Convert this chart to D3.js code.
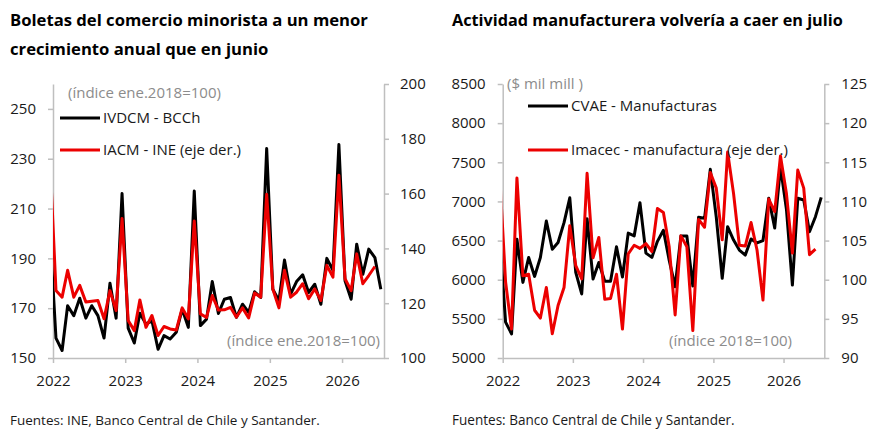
<!DOCTYPE html>
<html><head><meta charset="utf-8">
<script src="https://cdn.jsdelivr.net/npm/d3@7"></script>
<style>
body{margin:0;background:#fff;}
svg{display:block;font-family:"Open Sans",sans-serif;}
</style></head><body>
<svg id="c" width="882" height="439"></svg>
<script>
// ---- DATA ----
const months = ["2021-12",
 "2022-01","2022-02","2022-03","2022-04","2022-05","2022-06","2022-07","2022-08","2022-09","2022-10","2022-11","2022-12",
 "2023-01","2023-02","2023-03","2023-04","2023-05","2023-06","2023-07","2023-08","2023-09","2023-10","2023-11","2023-12",
 "2024-01","2024-02","2024-03","2024-04","2024-05","2024-06","2024-07","2024-08","2024-09","2024-10","2024-11","2024-12",
 "2025-01","2025-02","2025-03","2025-04","2025-05","2025-06","2025-07","2025-08","2025-09","2025-10","2025-11","2025-12",
 "2026-01","2026-02","2026-03","2026-04","2026-05","2026-06","2026-07"];

// Left chart: IVDCM - BCCh (left axis), through Jul 2026
const ivdcm = [201,
 158,153,171,167,174,166,171,167,158,180,166,216,
 162,156,168,163.6,165,153.5,159,157.6,160.3,169.6,162.3,217,
 163,165.6,180.7,167.9,173.6,174.3,166.3,171.6,168.3,176.6,174.3,234.1,
 177.6,173,189.3,175.6,180.7,183.4,176.3,179.6,171.6,190,185.2,235.7,
 181,173.6,195.7,183.6,193.7,190.3,177.6];
// Left chart: IACM - INE (right axis), through Jun 2026
const iacm = [174,
 124.6,122.2,132,122.2,126.5,120.4,120.7,121,114.3,124.6,117.3,150.9,
 113.7,110,121.2,111.2,115.5,108.2,111.5,110.6,110.2,118.3,114.3,150,
 116.1,114.8,122.8,117.5,117.6,118.5,114.9,118.3,114.6,123.7,122.2,159.8,
 125.2,118.3,132,122.2,124,127.1,121.6,125.2,121,133.8,129.5,166.7,
 128.9,124.6,138,127.1,130.1,133.4];
// Right chart: CVAE - Manufacturas (left axis, $ mil mill), through Jul 2026
const cvae = [6571,
 5458,5309,6517,5966,6284,6042,6284,6750,6390,6475,6729,7046,
 6093,5818,6780,6008,6220,5980,5980,6420,6035,6595,6560,6983,
 6340,6285,6490,6632,6250,5911,6558,6558,5920,6797,6784,7410,
 6800,6018,6677,6507,6379,6315,6520,6470,6500,7040,6660,7440,
 6900,5932,7040,7018,6613,6805,7052];
// Right chart: Imacec - manufactura (right axis), through Jun 2026
const imacec = [113.5,
 99.7,93.7,113.0,100.5,100.7,96.1,95.1,99.0,93.1,96.7,99.0,106.9,
 101.8,100.1,113.6,102.8,105.4,97.5,97.6,100.7,93.7,103.3,104.4,104.0,
 104.6,103.6,109.1,108.6,104.2,95.5,105.6,104.2,93.5,107.7,106.7,113.7,
 111.7,105.1,116.3,111.0,104.4,104.3,107.3,103.8,97.4,110.3,108.7,115.8,
 111.0,103.4,114.0,111.7,103.2,103.9];

const leftTicksL = [150,170,190,210,230,250];
const leftTicksR = [100,120,140,160,180,200];
const rightTicksL = [5000,5500,6000,6500,7000,7500,8000,8500];
const rightTicksR = [90,95,100,105,110,115,120,125];
const yearTicks = ["2022","2023","2024","2025","2026"];

// ---- DRAWING ----
const svg = d3.select("#c");
const RED = "#ec0000", AXIS = "#bfbfbf", GRAY = "#8c8c8c", TXT = "#1a1a1a";
const parseM = d3.timeParse("%Y-%m");
const midMonth = s => { const d = parseM(s); return new Date(d.getFullYear(), d.getMonth(), 16); };

function fitText(sel, target) {
  const w = sel.node().getComputedTextLength();
  const fs = parseFloat(sel.attr("font-size"));
  return fs * target / w;
}

function drawChart(cfg, idx) {
  const g = svg.append("g");
  const x = d3.scaleTime()
    .domain([new Date(2022,0,1), new Date(2026,7,1)])
    .range([cfg.x0, cfg.x1]);
  const yL = d3.scaleLinear().domain(cfg.domL).range([cfg.yBot, cfg.yTop]);
  const yR = d3.scaleLinear().domain(cfg.domR).range([cfg.yBot, cfg.yTop]);

  const clipId = "clip" + idx;
  svg.append("clipPath").attr("id", clipId).append("rect")
    .attr("x", cfg.x0).attr("y", 0).attr("width", cfg.x1 - cfg.x0).attr("height", cfg.yBot);

  const styleAxis = (a) => {
    a.select(".domain").attr("stroke", AXIS).attr("stroke-width", 1.5);
    a.selectAll(".tick line").attr("stroke", AXIS).attr("stroke-width", 1.5);
    a.selectAll(".tick text").attr("fill", TXT).attr("font-size", 15)
      .attr("font-family", '"Open Sans",sans-serif');
  };

  const aL = g.append("g").attr("transform", `translate(${cfg.x0},0)`)
    .call(d3.axisLeft(yL).tickValues(cfg.ticksL).tickSize(5).tickSizeOuter(0).tickPadding(cfg.padL).tickFormat(d3.format("d")));
  styleAxis(aL);
  const aR = g.append("g").attr("transform", `translate(${cfg.x1},0)`)
    .call(d3.axisRight(yR).tickValues(cfg.ticksR).tickSize(5).tickSizeOuter(0).tickPadding(cfg.padR).tickFormat(d3.format("d")));
  styleAxis(aR);
  const aB = g.append("g").attr("transform", `translate(0,${cfg.yBot})`)
    .call(d3.axisBottom(x).tickValues(yearTicks.map(y => new Date(+y,0,1)))
      .tickSize(5).tickSizeOuter(0).tickPadding(12).tickFormat(d3.timeFormat("%Y")));
  styleAxis(aB);

  const blackData = cfg.black.map((v,i) => ({d: midMonth(months[i]), v}));
  const redData = cfg.red.map((v,i) => ({d: midMonth(months[i]), v}));

  const lines = g.append("g").attr("clip-path", `url(#${clipId})`);
  lines.append("path").datum(blackData)
    .attr("fill","none").attr("stroke","#000").attr("stroke-width",3).attr("stroke-linejoin","round")
    .attr("d", d3.line().x(p => x(p.d)).y(p => yL(p.v)));
  lines.append("path").datum(redData)
    .attr("fill","none").attr("stroke",RED).attr("stroke-width",3).attr("stroke-linejoin","round")
    .attr("d", d3.line().x(p => x(p.d)).y(p => yR(p.v)));

  // Titles
  const t1 = g.append("text").attr("x", cfg.tx).attr("y", 26).attr("font-weight", 700)
    .attr("font-size", 16).attr("fill", "#000").text(cfg.title1);
  const fs = fitText(t1, cfg.titleW);
  t1.attr("font-size", fs);
  if (cfg.title2) g.append("text").attr("x", cfg.tx).attr("y", 55).attr("font-weight", 700)
    .attr("font-size", fs).attr("fill", "#000").text(cfg.title2);

  // Unit note
  g.append("text").attr("x", cfg.unitX).attr("y", cfg.unitY).attr("font-size", 15)
    .attr("fill", GRAY).text(cfg.unit);
  // Legend
  g.append("line").attr("x1", cfg.legX).attr("x2", cfg.legX + 40).attr("y1", cfg.legY1).attr("y2", cfg.legY1)
    .attr("stroke", "#000").attr("stroke-width", 3);
  g.append("text").attr("x", cfg.legX + 43).attr("y", cfg.legY1 + 5).attr("font-size", 15)
    .attr("fill", TXT).text(cfg.leg1);
  g.append("line").attr("x1", cfg.legX).attr("x2", cfg.legX + 40).attr("y1", cfg.legY2).attr("y2", cfg.legY2)
    .attr("stroke", RED).attr("stroke-width", 3);
  g.append("text").attr("x", cfg.legX + 43).attr("y", cfg.legY2 + 5).attr("font-size", 15)
    .attr("fill", TXT).text(cfg.leg2);
  // Bottom note
  g.append("text").attr("x", cfg.noteX).attr("y", 346).attr("font-size", 15)
    .attr("text-anchor", cfg.noteAnchor).attr("fill", GRAY).text(cfg.note);
  // Source
  const src = g.append("text").attr("x", cfg.tx).attr("y", 425).attr("font-size", 13)
    .attr("fill", TXT).text(cfg.source);
  src.attr("font-size", fitText(src, cfg.srcW));
}

drawChart({
  x0: 53, x1: 384, yTop: 84, yBot: 358,
  domL: [150, 260], domR: [100, 200],
  ticksL: leftTicksL, ticksR: leftTicksR, padL: 12, padR: 11,
  black: ivdcm, red: iacm,
  tx: 10, titleW: 358, srcW: 310,
  title1: "Boletas del comercio minorista a un menor",
  title2: "crecimiento anual que en junio",
  unit: "(índice ene.2018=100)", unitX: 68, unitY: 98,
  legX: 60, legY1: 118, legY2: 150,
  leg1: "IVDCM - BCCh", leg2: "IACM - INE (eje der.)",
  note: "(índice ene.2018=100)", noteX: 380, noteAnchor: "end",
  source: "Fuentes: INE, Banco Central de Chile y Santander."
}, 0);

drawChart({
  x0: 502.7, x1: 824.3, yTop: 84, yBot: 358,
  domL: [5000, 8500], domR: [90, 125],
  ticksL: rightTicksL, ticksR: rightTicksR, padL: 12, padR: 12,
  black: cvae, red: imacec,
  tx: 452, titleW: 391, srcW: 283,
  title1: "Actividad manufacturera volvería a caer en julio",
  title2: null,
  unit: "($ mil mill )", unitX: 507, unitY: 89,
  legX: 528, legY1: 106, legY2: 150,
  leg1: "CVAE - Manufacturas", leg2: "Imacec - manufactura (eje der.)",
  note: "(índice 2018=100)", noteX: 792, noteAnchor: "end",
  source: "Fuentes: Banco Central de Chile y Santander."
}, 1);
</script>
</body></html>
